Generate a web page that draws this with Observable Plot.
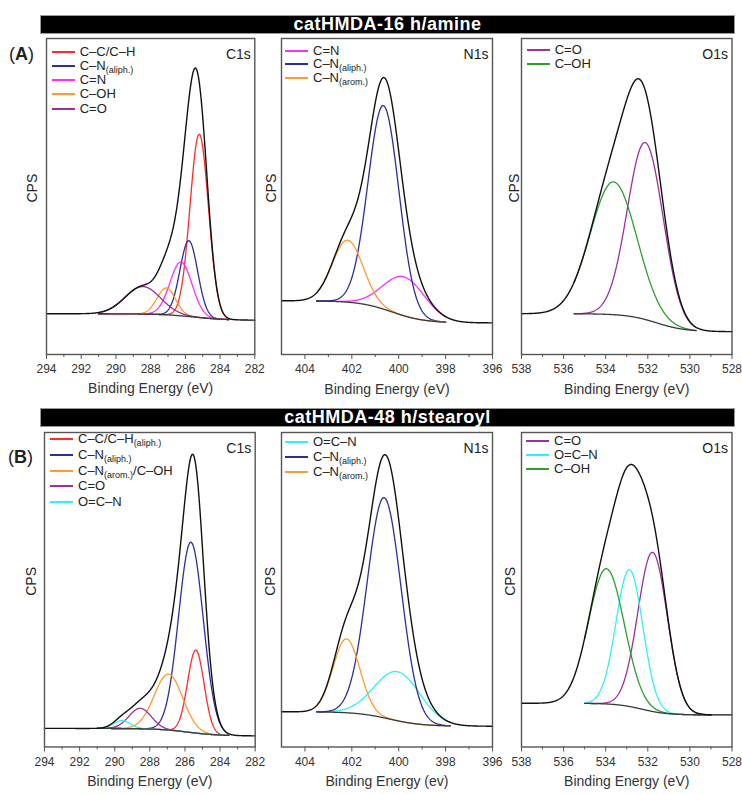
<!DOCTYPE html>
<html><head><meta charset="utf-8">
<script src="https://cdn.jsdelivr.net/npm/d3@7"></script>
<script src="https://cdn.jsdelivr.net/npm/@observablehq/plot@0.6"></script>
<style>
body{margin:0;background:#fff;font-family:"Liberation Sans",Arial,sans-serif;}
#root{position:relative;width:742px;height:794px;overflow:hidden;background:#fff;}
.bar{position:absolute;background:#000;color:#fff;font-weight:bold;text-align:center;border:1px solid #999;box-sizing:border-box;white-space:nowrap;}
.tag{position:absolute;font-size:18px;color:#222;white-space:nowrap;}
.lgtext{position:absolute;font-size:13px;color:#222;white-space:nowrap;line-height:12px;}
.sw{position:absolute;height:0;border-top:2px solid;}
.sub{font-size:9px;position:relative;top:3px;}
.plot{position:absolute;}
</style></head><body><div id="root"></div><script>
// ---------------- data ----------------
const sectionTitles = ["catHMDA-16 h/amine", "catHMDA-48 h/stearoyl"];
const sectionTags = ["A", "B"];
const regionNames = ["C1s", "N1s", "O1s"];
const xDomains = [[294, 282], [405, 396], [538, 528]];
const majorTicks = [[294, 292, 290, 288, 286, 284, 282], [404, 402, 400, 398, 396], [538, 536, 534, 532, 530, 528]];
const minorTicks = [[293, 291, 289, 287, 285, 283], [403, 401, 399, 397], [537, 535, 533, 531, 529]];
const axisTitles = ["Binding Energy (eV)", "Binding Energy (eV)", "Binding Energy (eV)",
                    "Binding Energy (eV)", "Binding Energy (ev)", "Binding Energy (eV)"];
const yLabel = "CPS";

// Panel A – C1s  (peak position eV, height above background, FWHM eV)
const aC1sLabels = ["C–C/C–H", "C–N{(aliph.)}", "C=N", "C–OH", "C=O"];
const aC1sCenter = [285.2, 285.8, 286.25, 287.1, 288.45];
const aC1sHeight = [58, 24, 17, 8.5, 8.7];
const aC1sFwhm = [1.25, 1.2, 1.5, 1.25, 2.4];
const aC1sBackground = [12.9, 10.8, 285.5, 1.0]; // high-BE level, low-BE level, step centre, step width
const aC1sFitRange = [291, 283.5];

// Panel A – N1s
const aN1sLabels = ["C=N", "C–N{(aliph.)}", "C–N{(arom.)}"];
const aN1sCenter = [399.77, 400.65, 402.18];
const aN1sHeight = [12.3, 64.4, 19.6];
const aN1sFwhm = [2.1, 1.55, 1.55];
const aN1sBackground = [17, 10, 400.3, 0.7];
const aN1sFitRange = [403.5, 398];

// Panel A – O1s
const aO1sLabels = ["C=O", "C–OH"];
const aO1sCenter = [532.12, 533.63];
const aO1sHeight = [56, 42];
const aO1sFwhm = [2.0, 2.6];
const aO1sBackground = [12.9, 7.2, 531.6, 0.7];
const aO1sFitRange = [535.5, 529.7];

// Panel B – C1s
const bC1sLabels = ["C–C/C–H{(aliph.)}", "C–N{(aliph.)}", "C–N{(arom.)}/C–OH", "C=O", "O=C–N"];
const bC1sCenter = [285.38, 285.66, 286.94, 288.55, 289.6];
const bC1sHeight = [26.4, 60.5, 17.8, 6.5, 2.5];
const bC1sFwhm = [1.1, 1.65, 1.9, 1.5, 1.15];
const bC1sBackground = [5.9, 3.5, 285.8, 0.9];
const bC1sFitRange = [291, 283.5];

// Panel B – N1s
const bN1sLabels = ["O=C–N", "C–N{(aliph.)}", "C–N{(arom.)}"];
const bN1sCenter = [400.05, 400.62, 402.23];
const bN1sHeight = [15.6, 70, 23.5];
const bN1sFwhm = [2.3, 1.7, 1.35];
const bN1sBackground = [11.2, 6.6, 400.4, 0.7];
const bN1sFitRange = [403.5, 397.8];

// Panel B – O1s
const bO1sLabels = ["C=O", "O=C–N", "C–OH"];
const bO1sCenter = [531.77, 532.87, 533.97];
const bO1sHeight = [50.6, 43.5, 43];
const bO1sFwhm = [1.65, 1.5, 2.0];
const bO1sBackground = [13.9, 10.2, 532.3, 0.6];
const bO1sFitRange = [535, 529];

// ---------------- styles & layout ----------------
const RED = "#ff2a2a", BLUE = "#2d2d9c", MAG = "#ff2cff", ORG = "#ff9a2e", PUR = "#9c309c", GRN = "#2f9f2f", CYN = "#30f2f2";
const panels = [
  {sec:0, reg:0, labels:aC1sLabels, center:aC1sCenter, height:aC1sHeight, fwhm:aC1sFwhm, bg:aC1sBackground, fit:aC1sFitRange,
   colors:[RED, BLUE, MAG, ORG, PUR], frame:[45.7, 254, 38, 354], cpsDx:-14, lg:{x:51.7, y:51.7, dy:14.2}},
  {sec:0, reg:1, labels:aN1sLabels, center:aN1sCenter, height:aN1sHeight, fwhm:aN1sFwhm, bg:aN1sBackground, fit:aN1sFitRange,
   colors:[MAG, BLUE, ORG], frame:[281, 492, 38, 354], cpsDx:-10, lg:{x:285, y:50.7, dy:13.5}},
  {sec:0, reg:2, labels:aO1sLabels, center:aO1sCenter, height:aO1sHeight, fwhm:aO1sFwhm, bg:aO1sBackground, fit:aO1sFitRange,
   colors:[PUR, GRN], frame:[521, 731.5, 38, 354], cpsDx:-7, lg:{x:526.7, y:50, dy:14}},
  {sec:1, reg:0, labels:bC1sLabels, center:bC1sCenter, height:bC1sHeight, fwhm:bC1sFwhm, bg:bC1sBackground, fit:bC1sFitRange,
   colors:[RED, BLUE, ORG, PUR, CYN], frame:[44.3, 255, 432, 746.5], cpsDx:-13, lg:{x:50, y:439.3, dy:15.6}},
  {sec:1, reg:1, labels:bN1sLabels, center:bN1sCenter, height:bN1sHeight, fwhm:bN1sFwhm, bg:bN1sBackground, fit:bN1sFitRange,
   colors:[CYN, BLUE, ORG], frame:[281, 492, 432, 746.5], cpsDx:-11, lg:{x:285, y:441.7, dy:15}},
  {sec:1, reg:2, labels:bO1sLabels, center:bO1sCenter, height:bO1sHeight, fwhm:bO1sFwhm, bg:bO1sBackground, fit:bO1sFitRange,
   colors:[PUR, CYN, GRN], frame:[521, 731.5, 432, 746.5], cpsDx:-11, lg:{x:526, y:440.7, dy:14}}
];
const bars = [{top:15, h:18.5}, {top:408.3, h:18.5}];
const tagPos = [{x:9, y:55}, {x:8, y:458}];

const root = document.getElementById("root");
const FONT = "'Liberation Sans', Arial, sans-serif";

// title bars and section tags
sectionTitles.forEach((t, i) => {
  const d = document.createElement("div");
  d.className = "bar";
  Object.assign(d.style, {left:"40px", top:bars[i].top + "px", width:"695px", height:bars[i].h + "px",
    lineHeight:(bars[i].h - 1) + "px", fontSize:"18px", letterSpacing:"0.5px"});
  d.textContent = t;
  root.appendChild(d);
  const g = document.createElement("div");
  g.className = "tag";
  Object.assign(g.style, {left:tagPos[i].x + "px", top:(tagPos[i].y - 11) + "px"});
  g.innerHTML = "(<b>" + sectionTags[i] + "</b>)";
  root.appendChild(g);
});

function richLabel(s) {
  return s.replace(/\{([^}]*)\}/g, '<span class="sub">$1</span>');
}

panels.forEach((p, pi) => {
  const [fl, fr, ft, fb] = p.frame;
  const mL = 30, mR = 8, mT = 4, mB = 50;
  const W = fr - fl + mL + mR, H = fb - ft + mT + mB;
  const dom = xDomains[p.reg];
  const lo = Math.min(...dom), hi = Math.max(...dom);
  const bgf = x => p.bg[1] + (p.bg[0] - p.bg[1]) / (1 + Math.exp(-(x - p.bg[2]) / p.bg[3]));
  const comp = (i, x) => p.height[i] * Math.exp(-4 * Math.LN2 * (x - p.center[i]) ** 2 / p.fwhm[i] ** 2);
  const xs = d3.range(lo, hi + 1e-9, 0.02);
  const fitLo = Math.min(...p.fit), fitHi = Math.max(...p.fit);
  const fxs = d3.range(fitLo, fitHi + 1e-9, 0.02);
  const envelope = xs.map(x => ({x, y: bgf(x) + d3.sum(p.center, (_, i) => comp(i, x))}));
  const bgLine = fxs.map(x => ({x, y: bgf(x)}));
  const compMarks = p.center.map((_, i) =>
    Plot.line(fxs.map(x => ({x, y: bgf(x) + comp(i, x)})), {x:"x", y:"y", stroke:p.colors[i], strokeWidth:1.3}));

  const svg = Plot.plot({
    width: W, height: H, marginLeft: mL, marginRight: mR, marginTop: mT, marginBottom: mB,
    style: {fontFamily: FONT, fontSize: "12px", color: "#333", background: "transparent", overflow: "visible"},
    x: {domain: dom},
    y: {domain: [0, 100], axis: null},
    marks: [
      Plot.axisX(minorTicks[p.reg], {tickSize: 3, tickFormat: () => "", label: null, stroke: "#555"}),
      Plot.axisX(majorTicks[p.reg], {tickSize: 5, tickPadding: 5, tickFormat: d => String(d), label: null, stroke: "#555"}),
      ...compMarks,
      Plot.line(bgLine, {x:"x", y:"y", stroke:"#3a3a3a", strokeWidth:1.3}),
      Plot.line(envelope, {x:"x", y:"y", stroke:"#111", strokeWidth:1.4}),
      Plot.frame({stroke: "#555", strokeWidth: 1.4}),
      Plot.text([axisTitles[pi]], {frameAnchor: "bottom", dy: 39, fontSize: 14, fill: "#333", text: d => d}),
      Plot.text([yLabel], {frameAnchor: "left", dx: p.cpsDx, dy: 6, rotate: -90, fontSize: 14, fill: "#222", text: d => d}),
      Plot.text([regionNames[p.reg]], {frameAnchor: "top-right", dx: -4, dy: 11, fontSize: 14, fill: "#222", textAnchor: "end", text: d => d})
    ]
  });
  svg.classList.add("plot");
  svg.style.left = (fl - mL) + "px";
  svg.style.top = (ft - mT) + "px";
  root.appendChild(svg);

  // legend (inside the frame, top-left)
  p.labels.forEach((lab, i) => {
    const y = p.lg.y + i * p.lg.dy;
    const s = document.createElement("div");
    s.className = "sw";
    Object.assign(s.style, {left: p.lg.x + "px", top: (y - 1) + "px", width: "23px", borderTopColor: p.colors[i]});
    root.appendChild(s);
    const t = document.createElement("div");
    t.className = "lgtext";
    Object.assign(t.style, {left: (p.lg.x + 28) + "px", top: (y - 6) + "px"});
    t.innerHTML = richLabel(lab);
    root.appendChild(t);
  });
});
</script></body></html>
